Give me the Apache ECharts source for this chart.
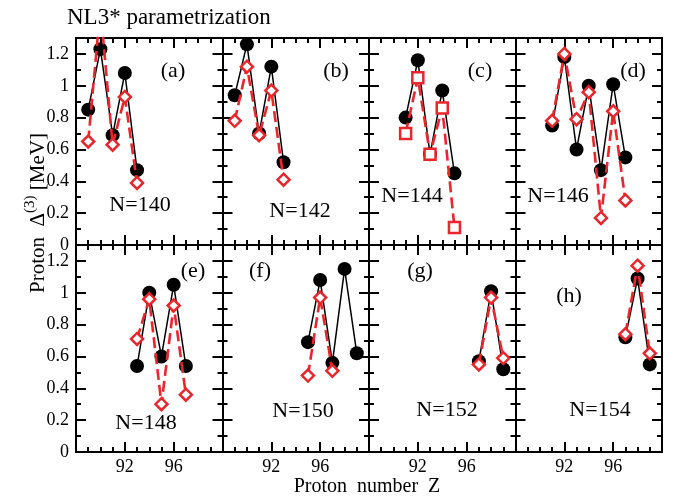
<!DOCTYPE html>
<html>
<head>
<meta charset="utf-8">
<script src="https://cdn.jsdelivr.net/npm/echarts@6/dist/echarts.min.js"></script>
<style>
  html, body { margin: 0; padding: 0; background: #fff; }
  #chart { width: 673px; height: 498px; }
</style>
</head>
<body>
<div id="chart"></div>
<script>
// Proton odd-even staggering Δ(3) vs proton number Z, one panel per neutron number
const panelTags = ['(a)', '(b)', '(c)', '(d)', '(e)', '(f)', '(g)', '(h)'];
const neutronLabels = ['N=140', 'N=142', 'N=144', 'N=146', 'N=148', 'N=150', 'N=152', 'N=154'];
const xTickLabels = [92, 96];

const zA = [89, 90, 91, 92, 93];
const blackA = [0.85, 1.23, 0.69, 1.08, 0.47];
const redA = [0.65, 1.49, 0.63, 0.93, 0.39];

const zB = [89, 90, 91, 92, 93];
const blackB = [0.94, 1.26, 0.70, 1.12, 0.52];
const redB = [0.78, 1.12, 0.69, 0.97, 0.41];

const zC = [91, 92, 93, 94, 95];
const blackC = [0.80, 1.16, 0.57, 0.97, 0.45];
const redC = [0.70, 1.05, 0.57, 0.86, 0.11];

const zD = [91, 92, 93, 94, 95, 96, 97];
const blackD = [0.75, 1.18, 0.60, 1.00, 0.47, 1.01, 0.55];
const redD = [0.78, 1.20, 0.79, 0.96, 0.17, 0.84, 0.28];

const zE = [93, 94, 95, 96, 97];
const blackE = [0.54, 1.00, 0.60, 1.05, 0.54];
const redE = [0.71, 0.96, 0.30, 0.92, 0.36];

const zF = [95, 96, 97, 98, 99];
const blackF = [0.69, 1.08, 0.56, 1.15, 0.62];
const zFred = [95, 96, 97];
const redF = [0.48, 0.97, 0.51];

const zG = [97, 98, 99];
const blackG = [0.57, 1.01, 0.52];
const redG = [0.55, 0.97, 0.59];

const zH = [97, 98, 99];
const blackH = [0.72, 1.09, 0.55];
const redH = [0.74, 1.17, 0.62];

const panels = [
  { zb: zA, b: blackA, zr: zA, r: redA, sym: 'diamond' },
  { zb: zB, b: blackB, zr: zB, r: redB, sym: 'diamond' },
  { zb: zC, b: blackC, zr: zC, r: redC, sym: 'rect' },
  { zb: zD, b: blackD, zr: zD, r: redD, sym: 'diamond' },
  { zb: zE, b: blackE, zr: zE, r: redE, sym: 'diamond' },
  { zb: zF, b: blackF, zr: zFred, r: redF, sym: 'diamond' },
  { zb: zG, b: blackG, zr: zG, r: redG, sym: 'diamond' },
  { zb: zH, b: blackH, zr: zH, r: redH, sym: 'diamond' }
];

const FONT = '"Liberation Serif", "Times New Roman", serif';
const RED = '#e8262c';
const LEFT = 76, COLW = 146.5, TOP = 38, ROWH = 207;

const tagPos = [[173, 71], [336, 71], [480, 71], [633, 71], [193, 271], [260, 271], [420, 271], [569, 296]];
const nPos = [[140, 205], [300, 211], [412, 196], [558, 196], [146, 423], [303, 411], [447, 410], [600, 410]];

const grids = [], xAxes = [], yAxes = [], series = [], graphics = [];

function pairs(xs, ys) { return xs.map((x, k) => [x, ys[k]]); }

panels.forEach((p, i) => {
  const col = i % 4, row = Math.floor(i / 4);
  grids.push({ left: LEFT + col * COLW, top: TOP + row * ROWH, width: COLW, height: ROWH });

  const lineStyle = { color: '#000', width: 2 };
  const xBase = {
    type: 'value', gridIndex: i, min: 88, max: 100, interval: 4,
    axisLine: { show: true, onZero: false, lineStyle },
    axisTick: { show: true, inside: true, length: 10, lineStyle },
    minorTick: { show: true, splitNumber: 4, length: 5, lineStyle },
    splitLine: { show: false }, minorSplitLine: { show: false }
  };
  xAxes.push(Object.assign({}, xBase, {
    position: 'bottom',
    axisLabel: {
      show: row === 1, margin: 6, fontFamily: FONT, fontSize: 18, color: '#000',
      formatter: v => (xTickLabels.indexOf(v) >= 0 ? String(v) : '')
    }
  }));
  xAxes.push(Object.assign({}, xBase, { position: 'top', axisLabel: { show: false } }));

  const yMajor = (pos, labels) => ({
    type: 'value', gridIndex: i, min: 0, max: 1.3, interval: 0.2, position: pos,
    axisLine: { show: true, onZero: false, lineStyle },
    axisTick: { show: true, inside: true, length: 10, lineStyle },
    splitLine: { show: false },
    axisLabel: {
      show: labels, showMaxLabel: false, margin: 7, fontFamily: FONT, fontSize: 18, color: '#000'
    }
  });
  const yMinor = pos => ({
    type: 'value', gridIndex: i, min: 0, max: 1.3, interval: 0.1, position: pos,
    axisLine: { show: false },
    axisTick: { show: true, inside: true, length: 5, lineStyle },
    splitLine: { show: false }, axisLabel: { show: false }
  });
  yAxes.push(yMajor('left', col === 0), yMinor('left'), yMajor('right', false), yMinor('right'));

  series.push({
    type: 'line', xAxisIndex: 2 * i, yAxisIndex: 4 * i, data: pairs(p.zb, p.b),
    symbol: 'circle', symbolSize: 14, clip: true, z: 2,
    itemStyle: { color: '#000' }, lineStyle: { color: '#000', width: 1.5 }
  });
  series.push({
    type: 'line', xAxisIndex: 2 * i, yAxisIndex: 4 * i, data: pairs(p.zr, p.r),
    symbol: p.sym, symbolSize: p.sym === 'rect' ? 11 : 12, clip: true, z: 3,
    itemStyle: { color: '#fff', borderColor: RED, borderWidth: 2.5 },
    lineStyle: { color: RED, width: 2.6, type: [11, 5] }
  });

  graphics.push({
    type: 'text', x: tagPos[i][0], y: tagPos[i][1],
    style: { text: panelTags[i], font: '22px ' + FONT, fill: '#000', align: 'center', verticalAlign: 'middle' }
  });
  graphics.push({
    type: 'text', x: nPos[i][0], y: nPos[i][1],
    style: { text: neutronLabels[i], font: '22px ' + FONT, fill: '#000', align: 'center', verticalAlign: 'middle' }
  });
});

// headline and axis titles
graphics.push({
  type: 'text', x: 67, y: 18,
  style: { text: 'NL3* parametrization', font: '23px ' + FONT, fill: '#000', align: 'left', verticalAlign: 'middle' }
});
graphics.push({
  type: 'text', x: 367, y: 487,
  style: { text: 'Proton  number  Z', font: '20px ' + FONT, fill: '#000', align: 'center', verticalAlign: 'middle' }
});
graphics.push({
  type: 'text', x: 38, y: 213, rotation: Math.PI / 2,
  style: {
    text: 'Proton  Δ{sup|(3)} [MeV]',
    font: '21px ' + FONT, fill: '#000', align: 'center', verticalAlign: 'middle',
    rich: {
      sup: { fontFamily: FONT, fontSize: 15, fill: '#000', verticalAlign: 'top', lineHeight: 30, padding: [0, 0, 12, 0] }
    }
  }
});

const chart = echarts.init(document.getElementById('chart'), null, { renderer: 'canvas' });
chart.setOption({
  animation: false,
  backgroundColor: '#fff',
  grid: grids,
  xAxis: xAxes,
  yAxis: yAxes,
  series: series,
  graphic: graphics
});
</script>
</body>
</html>
